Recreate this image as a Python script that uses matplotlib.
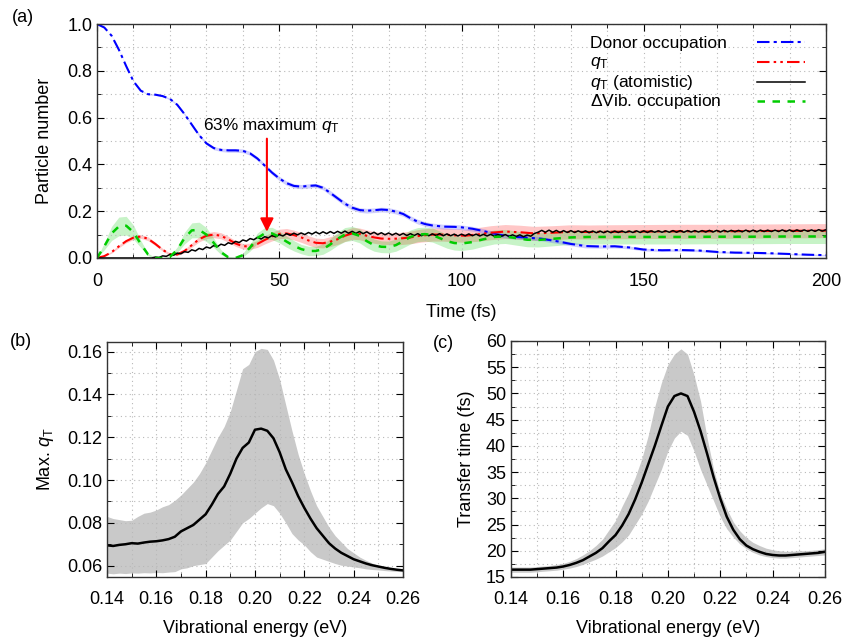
import numpy as np
import matplotlib
matplotlib.use("Agg")
import matplotlib.pyplot as plt
from matplotlib.lines import Line2D
from matplotlib.ticker import MultipleLocator

plt.rcParams["font.family"] = ["Liberation Sans", "DejaVu Sans"]
plt.rcParams["mathtext.fontset"] = "custom"
plt.rcParams["mathtext.rm"] = "Liberation Sans"
plt.rcParams["mathtext.it"] = "Liberation Sans:italic"
plt.rcParams["font.size"] = 13

# (a) donor occupation
t_donor = [0, 2, 4, 6, 8, 10, 12, 14, 16, 18, 20, 22, 24, 26, 28, 30, 32, 34, 36, 38,
           40, 42, 44, 46, 48, 50, 52, 54, 56, 58, 60, 62, 64, 66, 68, 70, 72, 74, 76, 78,
           80, 82, 84, 86, 88, 90, 92, 95, 98, 100, 103, 106, 110, 114, 118, 122, 126, 130,
           134, 138, 142, 146, 150, 155, 160, 165, 170, 175, 180, 185, 190, 195, 200]
donor = [1.0, 0.985, 0.95, 0.89, 0.82, 0.755, 0.715, 0.70, 0.698, 0.692, 0.68, 0.655, 0.615,
         0.57, 0.525, 0.49, 0.47, 0.462, 0.46, 0.46, 0.458, 0.447, 0.425, 0.395, 0.365, 0.34,
         0.32, 0.308, 0.305, 0.308, 0.31, 0.30, 0.278, 0.255, 0.232, 0.215, 0.205, 0.202, 0.204,
         0.207, 0.205, 0.198, 0.188, 0.17, 0.155, 0.145, 0.139, 0.134, 0.133, 0.131, 0.125,
         0.115, 0.10, 0.091, 0.087, 0.082, 0.072, 0.06, 0.051, 0.049, 0.05, 0.045, 0.036, 0.033,
         0.034, 0.032, 0.026, 0.023, 0.022, 0.02, 0.017, 0.014, 0.012]
donor_err = [0.0, 0.0, 0.001, 0.001, 0.002, 0.002, 0.002, 0.003, 0.003, 0.003, 0.004, 0.004,
             0.005, 0.005, 0.006, 0.006, 0.007, 0.007, 0.008, 0.008, 0.008, 0.008, 0.008, 0.008,
             0.009, 0.009, 0.009, 0.009, 0.009, 0.009, 0.009, 0.009, 0.01, 0.01, 0.01, 0.01, 0.01,
             0.01, 0.01, 0.01, 0.01, 0.01, 0.01, 0.01, 0.01, 0.01, 0.01, 0.01, 0.01, 0.01, 0.01,
             0.01, 0.01, 0.009, 0.009, 0.009, 0.009, 0.008, 0.008, 0.007, 0.007, 0.006, 0.006,
             0.005, 0.005, 0.005, 0.004, 0.004, 0.004, 0.003, 0.003, 0.003, 0.003]

# (a) q_T
t_qt = [0, 2, 4, 6, 8, 10, 12, 14, 16, 18, 20, 22, 24, 26, 28, 30, 32, 34, 36, 38, 40, 42,
        44, 46, 48, 50, 52, 54, 56, 58, 60, 62, 64, 66, 68, 70, 72, 74, 76, 78, 80, 83, 86,
        89, 92, 95, 98, 101, 104, 108, 112, 116, 120, 125, 130, 135, 140, 150, 160, 170,
        180, 190, 200]
qt = [0.0, 0.008, 0.025, 0.05, 0.072, 0.087, 0.092, 0.082, 0.06, 0.035, 0.016, 0.015, 0.03,
      0.055, 0.08, 0.095, 0.10, 0.095, 0.08, 0.062, 0.05, 0.05, 0.06, 0.077, 0.092, 0.103,
      0.105, 0.098, 0.088, 0.075, 0.065, 0.063, 0.07, 0.08, 0.095, 0.105, 0.103, 0.095, 0.088,
      0.083, 0.082, 0.083, 0.088, 0.096, 0.10, 0.10, 0.097, 0.095, 0.10, 0.108, 0.113, 0.11,
      0.105, 0.108, 0.112, 0.111, 0.112, 0.113, 0.114, 0.114, 0.115, 0.116, 0.117]
qt_err = [0.0, 0.002, 0.004, 0.006, 0.007, 0.008, 0.008, 0.008, 0.007, 0.006, 0.005, 0.005,
          0.007, 0.009, 0.011, 0.012, 0.013, 0.013, 0.013, 0.012, 0.012, 0.013, 0.015, 0.017,
          0.019, 0.02, 0.021, 0.021, 0.021, 0.02, 0.02, 0.02, 0.021, 0.022, 0.024, 0.025, 0.025,
          0.025, 0.025, 0.025, 0.025, 0.026, 0.027, 0.028, 0.028, 0.028, 0.028, 0.028, 0.029,
          0.03, 0.03, 0.03, 0.03, 0.03, 0.03, 0.03, 0.03, 0.03, 0.03, 0.03, 0.03, 0.03, 0.03]

# (a) vibrational occupation change
t_vib = [0, 2, 4, 6, 8, 10, 12, 14, 16, 18, 20, 22, 24, 26, 28, 30, 32, 34, 36, 38, 40, 42,
         44, 46, 48, 50, 52, 54, 56, 58, 60, 62, 64, 66, 68, 70, 72, 74, 76, 78, 80, 82, 84,
         86, 88, 90, 92, 94, 96, 98, 100, 103, 106, 109, 112, 115, 118, 121, 125, 130, 135,
         140, 150, 160, 170, 180, 190, 200]
vib = [0.0, 0.05, 0.105, 0.135, 0.138, 0.11, 0.06, 0.015, 0.0, 0.0, 0.005, 0.035, 0.085,
       0.118, 0.12, 0.10, 0.065, 0.025, 0.003, 0.0, 0.012, 0.045, 0.085, 0.105, 0.105, 0.09,
       0.07, 0.052, 0.038, 0.03, 0.03, 0.038, 0.058, 0.082, 0.10, 0.105, 0.095, 0.072, 0.055,
       0.048, 0.047, 0.055, 0.072, 0.09, 0.10, 0.102, 0.098, 0.085, 0.072, 0.064, 0.062, 0.068,
       0.08, 0.09, 0.092, 0.085, 0.078, 0.077, 0.082, 0.088, 0.09, 0.09, 0.09, 0.09, 0.091,
       0.091, 0.092, 0.092]
vib_err = [0.0, 0.015, 0.03, 0.04, 0.04, 0.03, 0.015, 0.005, 0.002, 0.002, 0.003, 0.012,
           0.025, 0.032, 0.033, 0.03, 0.02, 0.01, 0.004, 0.004, 0.008, 0.015, 0.022, 0.025,
           0.026, 0.025, 0.024, 0.022, 0.02, 0.02, 0.02, 0.022, 0.025, 0.028, 0.03, 0.03, 0.03,
           0.028, 0.026, 0.025, 0.025, 0.026, 0.028, 0.03, 0.03, 0.03, 0.03, 0.03, 0.03, 0.03,
           0.03, 0.03, 0.03, 0.03, 0.03, 0.03, 0.03, 0.03, 0.03, 0.03, 0.03, 0.03, 0.03, 0.03,
           0.03, 0.03, 0.03, 0.03]

# (a) q_T atomistic, one value per fs from 15 fs (zero before)
t_atom = [0] + list(range(15, 201))
atom = [0.0,
        0.000, 0.004, 0.002, 0.009, 0.007, 0.015, 0.012, 0.021, 0.018, 0.027,
        0.024, 0.035, 0.030, 0.041, 0.036, 0.047, 0.042, 0.053, 0.048, 0.059,
        0.054, 0.065, 0.060, 0.071, 0.066, 0.077, 0.072, 0.083, 0.078, 0.088,
        0.081, 0.091, 0.086, 0.096, 0.090, 0.100, 0.094, 0.104, 0.097, 0.106,
        0.099, 0.107, 0.100, 0.109, 0.102, 0.111, 0.103, 0.112, 0.104, 0.113,
        0.105, 0.114, 0.106, 0.115, 0.106, 0.114, 0.105, 0.113, 0.104, 0.112,
        0.102, 0.110, 0.100, 0.108, 0.099, 0.107, 0.098, 0.106, 0.097, 0.105,
        0.096, 0.104, 0.096, 0.104, 0.095, 0.103, 0.095, 0.103, 0.096, 0.104,
        0.095, 0.103, 0.095, 0.102, 0.094, 0.102, 0.095, 0.103, 0.095, 0.102,
        0.094, 0.101, 0.094, 0.101, 0.093, 0.100, 0.093, 0.100, 0.092, 0.099,
        0.092, 0.099, 0.091, 0.098, 0.093, 0.105, 0.110, 0.118, 0.110, 0.119,
        0.110, 0.118, 0.109, 0.117, 0.109, 0.117, 0.109, 0.116, 0.109, 0.116,
        0.108, 0.115, 0.108, 0.115, 0.108, 0.115, 0.108, 0.115, 0.109, 0.115,
        0.109, 0.115, 0.109, 0.116, 0.109, 0.116, 0.109, 0.116, 0.110, 0.116,
        0.110, 0.116, 0.110, 0.117, 0.110, 0.117, 0.110, 0.117, 0.111, 0.117,
        0.111, 0.117, 0.111, 0.118, 0.111, 0.118, 0.111, 0.118, 0.112, 0.118,
        0.112, 0.118, 0.112, 0.119, 0.112, 0.119, 0.112, 0.119, 0.113, 0.119,
        0.113, 0.119, 0.113, 0.120, 0.113, 0.120, 0.113, 0.120, 0.114, 0.120,
        0.114, 0.120, 0.114, 0.121, 0.115, 0.121]

# (b), (c) vs vibrational energy
energy = [0.1400, 0.1425, 0.1450, 0.1475, 0.1500, 0.1525, 0.1550, 0.1575, 0.1600, 0.1625,
          0.1650, 0.1675, 0.1700, 0.1725, 0.1750, 0.1775, 0.1800, 0.1825, 0.1850, 0.1875,
          0.1900, 0.1925, 0.1950, 0.1975, 0.2000, 0.2025, 0.2050, 0.2075, 0.2100, 0.2125,
          0.2150, 0.2175, 0.2200, 0.2225, 0.2250, 0.2275, 0.2300, 0.2325, 0.2350, 0.2375,
          0.2400, 0.2425, 0.2450, 0.2475, 0.2500, 0.2525, 0.2550, 0.2575, 0.2600]
maxq = [0.0695, 0.0692, 0.0697, 0.0700, 0.0705, 0.0703, 0.0708, 0.0712, 0.0714, 0.0718,
        0.0724, 0.0735, 0.0760, 0.0775, 0.0790, 0.0815, 0.0840, 0.0885, 0.0935, 0.0970,
        0.1030, 0.1100, 0.1150, 0.1175, 0.1235, 0.1240, 0.1230, 0.1195, 0.1130, 0.1050,
        0.0990, 0.0925, 0.0870, 0.0820, 0.0775, 0.0740, 0.0705, 0.0680, 0.0660, 0.0645,
        0.0630, 0.0620, 0.0610, 0.0602, 0.0596, 0.0590, 0.0585, 0.0581, 0.0578]
maxq_hi = [0.0830, 0.0820, 0.0815, 0.0810, 0.0812, 0.0830, 0.0845, 0.0850, 0.0860, 0.0875,
           0.0885, 0.0905, 0.0930, 0.0960, 0.0990, 0.1030, 0.1080, 0.1140, 0.1200, 0.1250,
           0.1320, 0.1420, 0.1520, 0.1540, 0.1600, 0.1615, 0.1610, 0.1560, 0.1470, 0.1350,
           0.1230, 0.1120, 0.1030, 0.0950, 0.0880, 0.0830, 0.0780, 0.0740, 0.0710, 0.0680,
           0.0660, 0.0640, 0.0625, 0.0612, 0.0600, 0.0592, 0.0586, 0.0582, 0.0580]
maxq_lo = [0.0565, 0.0562, 0.0565, 0.0563, 0.0566, 0.0565, 0.0567, 0.0566, 0.0568, 0.0567,
           0.0570, 0.0572, 0.0585, 0.0590, 0.0600, 0.0605, 0.0610, 0.0640, 0.0670, 0.0695,
           0.0720, 0.0760, 0.0800, 0.0820, 0.0845, 0.0870, 0.0890, 0.0880, 0.0845, 0.0800,
           0.0750, 0.0720, 0.0697, 0.0665, 0.0640, 0.0630, 0.0620, 0.0610, 0.0602, 0.0598,
           0.0594, 0.0590, 0.0585, 0.0582, 0.0580, 0.0577, 0.0575, 0.0573, 0.0572]

ttime = [16.4, 16.4, 16.4, 16.4, 16.5, 16.6, 16.7, 16.8, 17.0, 17.3,
         17.7, 18.2, 18.9, 19.6, 20.5, 21.8, 23.0, 24.8, 27.0, 29.8,
         33.0, 36.5, 40.0, 43.8, 47.5, 49.5, 50.0, 49.5, 46.5, 42.8,
         38.5, 34.0, 30.0, 26.5, 24.0, 22.2, 21.0, 20.3, 19.8, 19.4,
         19.2, 19.1, 19.1, 19.2, 19.3, 19.4, 19.5, 19.6, 19.8]
ttime_hi = [16.9, 16.9, 16.9, 16.9, 17.0, 17.1, 17.2, 17.4, 17.6, 18.0,
            18.5, 19.2, 20.0, 21.0, 22.2, 24.0, 25.8, 28.5, 31.0, 34.0,
            37.5, 42.0, 47.5, 52.0, 55.5, 57.5, 58.5, 57.5, 53.5, 48.5,
            41.5, 35.5, 31.0, 28.0, 25.5, 23.8, 22.5, 21.6, 21.0, 20.5,
            20.2, 20.0, 19.9, 19.9, 20.0, 20.0, 20.1, 20.2, 20.4]
ttime_lo = [15.9, 15.9, 15.9, 15.9, 16.0, 16.1, 16.2, 16.3, 16.5, 16.7,
            17.0, 17.4, 17.9, 18.4, 19.0, 19.8, 20.6, 21.7, 23.0, 25.0,
            27.0, 29.5, 32.5, 35.5, 39.0, 41.5, 42.8, 42.0, 39.0, 35.5,
            32.5, 29.5, 26.5, 24.2, 22.6, 21.3, 20.4, 19.7, 19.2, 18.9,
            18.7, 18.6, 18.6, 18.7, 18.8, 18.9, 19.0, 19.1, 19.2]

legend_labels = ["Donor occupation", r"$q_\mathrm{T}$", r"$q_\mathrm{T}$ (atomistic)",
                 r"$\Delta$Vib. occupation"]


def style_axes(ax):
    ax.tick_params(which="both", direction="in", top=True, right=True, labelsize=13)
    ax.tick_params(which="major", length=5)
    ax.tick_params(which="minor", length=3)
    ax.grid(which="both", linestyle=(0, (1, 3)), color="#b8b8b8", linewidth=0.8)
    for s in ax.spines.values():
        s.set_linewidth(1.0)
        s.set_color("#333333")


fig = plt.figure(figsize=(8.43, 6.37), dpi=100)

# ---- panel (a)
ax = fig.add_axes([0.1151, 0.595, 0.8648, 0.3673])
tq = np.array(t_qt); q = np.array(qt); qe = np.array(qt_err)
tv = np.array(t_vib); v = np.array(vib); ve = np.array(vib_err)
td = np.array(t_donor); d = np.array(donor); de = np.array(donor_err)
ax.fill_between(tq, q - qe, q + qe, color="#ff2020", alpha=0.25, lw=0)
ax.fill_between(tv, v - ve, v + ve, color="#20d020", alpha=0.25, lw=0)
ax.fill_between(td, d - de, d + de, color="#4040ff", alpha=0.25, lw=0)
styles = [dict(color="#0000ff", lw=1.5, ls=(0, (6, 2, 1.5, 2))),
          dict(color="#ff0000", lw=1.5, ls=(0, (6, 2, 1.2, 2, 1.2, 2))),
          dict(color="black", lw=1.1, ls="-"),
          dict(color="#00cc00", lw=1.8, ls=(0, (3, 3)))]
ax.plot(td, d, **styles[0])
ax.plot(tq, q, **styles[1])
ax.plot(t_atom, atom, **styles[2])
ax.plot(tv, v, **styles[3])
ax.set_xlim(0, 200)
ax.set_ylim(0, 1.0)
ax.xaxis.set_major_locator(MultipleLocator(50))
ax.xaxis.set_minor_locator(MultipleLocator(10))
ax.yaxis.set_major_locator(MultipleLocator(0.2))
ax.yaxis.set_minor_locator(MultipleLocator(0.1))
ax.yaxis.set_major_formatter(plt.FormatStrFormatter("%.1f"))
style_axes(ax)
ax.tick_params(axis="x", pad=11)
ax.set_xlabel("Time (fs)", labelpad=10)
ax.set_ylabel("Particle number", labelpad=10)

# legend: labels left-aligned, line samples on the right
row_y = [0.918, 0.835, 0.748, 0.668]
for lab, st, y in zip(legend_labels, styles, row_y):
    ax.text(0.676, y, lab, transform=ax.transAxes, fontsize=12.5, va="center", ha="left")
    ax.add_line(Line2D([0.905, 0.971], [y + 0.003, y + 0.003], transform=ax.transAxes, **st))

ax.annotate("", xy=(46.6, 0.112), xytext=(46.6, 0.51),
            arrowprops=dict(arrowstyle="-|>", color="#ff0000", lw=1.5,
                            mutation_scale=20, shrinkA=0, shrinkB=0))
ax.text(29.0, 0.568, r"63% maximum $q_\mathrm{T}$", fontsize=12.3, va="center", ha="left")

# ---- panel (b)
axb = fig.add_axes([0.1269, 0.0942, 0.3511, 0.369])
axb.fill_between(energy, maxq_lo, maxq_hi, color="#c9c9c9", lw=0)
axb.plot(energy, maxq, color="black", lw=1.8)
axb.set_xlim(0.14, 0.26)
axb.set_ylim(0.0547, 0.1645)
axb.xaxis.set_major_locator(MultipleLocator(0.02))
axb.xaxis.set_minor_locator(MultipleLocator(0.01))
axb.yaxis.set_major_locator(MultipleLocator(0.02))
axb.yaxis.set_minor_locator(MultipleLocator(0.01))
axb.xaxis.set_major_formatter(plt.FormatStrFormatter("%.2f"))
axb.yaxis.set_major_formatter(plt.FormatStrFormatter("%.2f"))
style_axes(axb)
axb.tick_params(axis="x", pad=10)
axb.set_xlabel("Vibrational energy (eV)", labelpad=9)
axb.set_ylabel(r"Max. $q_\mathrm{T}$", labelpad=8)

# ---- panel (c)
axc = fig.add_axes([0.606, 0.0942, 0.3725, 0.3705])
axc.fill_between(energy, ttime_lo, ttime_hi, color="#c9c9c9", lw=0)
axc.plot(energy, ttime, color="black", lw=1.8)
axc.set_xlim(0.14, 0.26)
axc.set_ylim(15, 60)
axc.xaxis.set_major_locator(MultipleLocator(0.02))
axc.xaxis.set_minor_locator(MultipleLocator(0.01))
axc.yaxis.set_major_locator(MultipleLocator(5))
axc.yaxis.set_minor_locator(MultipleLocator(2.5))
axc.xaxis.set_major_formatter(plt.FormatStrFormatter("%.2f"))
style_axes(axc)
axc.tick_params(axis="x", pad=10)
axc.set_xlabel("Vibrational energy (eV)", labelpad=9)
axc.set_ylabel("Transfer time (fs)", labelpad=8)

fig.text(0.014, 1 - 17 / 637, "(a)", fontsize=13, va="center", ha="left")
fig.text(0.012, 1 - 342 / 637, "(b)", fontsize=13, va="center", ha="left")
fig.text(0.513, 1 - 344 / 637, "(c)", fontsize=13, va="center", ha="left")

fig.savefig("out.png", dpi=100)
